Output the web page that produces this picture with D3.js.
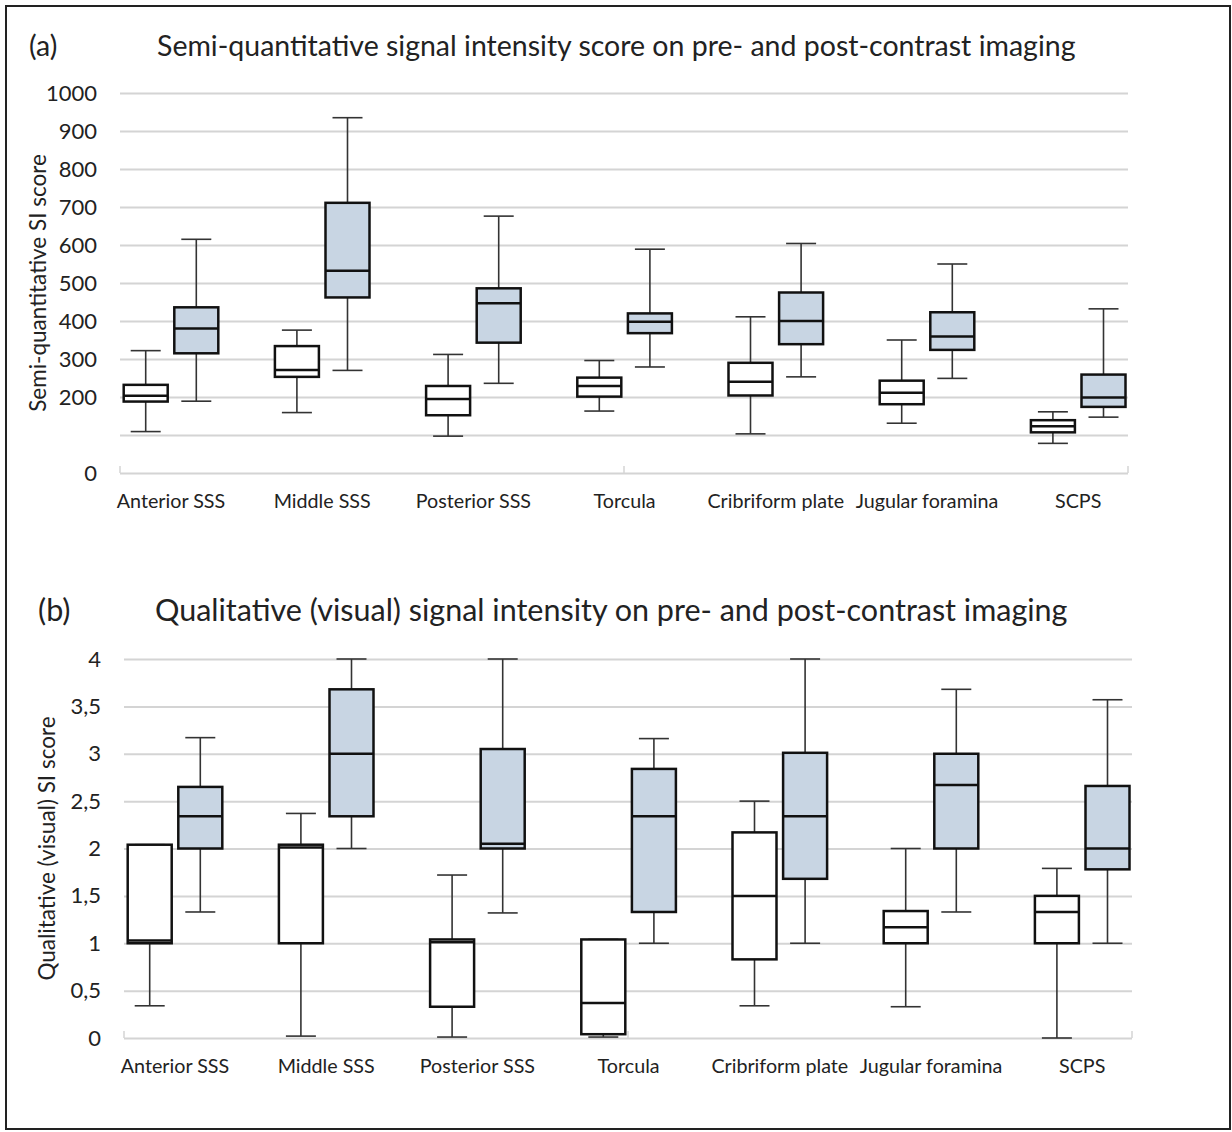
<!DOCTYPE html>
<html>
<head>
<meta charset="utf-8">
<script src="https://cdn.jsdelivr.net/npm/d3@7"></script>
<style>
  body { margin: 0; background: #fff; }
  text { font-family: Lato, "Open Sans", sans-serif; fill: #222; }
</style>
</head>
<body>
<div id="chart"></div>
<script>
const W = 1232, H = 1132;

const categories = ["Anterior SSS", "Middle SSS", "Posterior SSS", "Torcula", "Cribriform plate", "Jugular foramina", "SCPS"];

// each entry: [min, q1, median, q3, max]
const semiPre = [[109, 188, 203, 232, 322], [159, 253, 271, 334, 376], [97, 152, 195, 229, 312], [163, 201, 229, 251, 296],
                 [103, 204, 240, 290, 411], [131, 181, 211, 243, 350], [78, 107, 123, 139, 161]];
const semiPost = [[189, 315, 380, 436, 615], [270, 462, 532, 711, 935], [236, 343, 447, 486, 676], [279, 368, 398, 420, 589],
                  [253, 339, 400, 475, 604], [249, 324, 359, 423, 550], [147, 174, 199, 259, 432]];
const semiGrid = [0, 100, 200, 300, 400, 500, 600, 700, 800, 900, 1000];
const semiLabels = [0, 200, 300, 400, 500, 600, 700, 800, 900, 1000];

const qualPre = [[0.34, 1.0, 1.03, 2.04, 2.04], [0.02, 1.0, 2.01, 2.04, 2.37], [0.01, 0.33, 1.01, 1.04, 1.72], [0.01, 0.04, 0.37, 1.04, 1.04],
                 [0.34, 0.83, 1.5, 2.17, 2.5], [0.33, 1.0, 1.17, 1.34, 2.0], [0.0, 1.0, 1.33, 1.5, 1.79]];
const qualPost = [[1.33, 2.0, 2.34, 2.65, 3.17], [2.0, 2.34, 3.0, 3.68, 4.0], [1.32, 2.0, 2.05, 3.05, 4.0], [1.0, 1.33, 2.34, 2.84, 3.16],
                  [1.0, 1.68, 2.34, 3.01, 4.0], [1.33, 2.0, 2.67, 3.0, 3.68], [1.0, 1.78, 2.0, 2.66, 3.57]];
const qualGrid = [0, 0.5, 1, 1.5, 2, 2.5, 3, 3.5, 4];
const qualLabels = qualGrid;

const commaLocale = d3.formatLocale({ decimal: ",", thousands: ".", grouping: [3], currency: ["", ""] });
const fmt = commaLocale.format("~g");

const svg = d3.select("#chart").append("svg")
    .attr("width", W)
    .attr("height", H);

svg.append("rect")
    .attr("x", 6).attr("y", 6)
    .attr("width", W - 8).attr("height", H - 9)
    .attr("fill", "none")
    .attr("stroke", "#222")
    .attr("stroke-width", 2);

function drawPanel(p) {
    const g = svg.append("g");
    const right = p.left + 1008;

    const y = d3.scaleLinear().domain(p.domain).range([p.bottom, p.top]);
    const x = d3.scaleBand().domain(categories).range([p.left - 24.6, p.left + 1033.8]).padding(0);

    // gridlines + tick labels
    const yAxis = d3.axisLeft(y)
        .tickValues(p.grid)
        .tickSize(-(right - p.left))
        .tickPadding(23)
        .tickFormat(d => p.labels.includes(d) ? fmt(d) : "");
    const ya = g.append("g").attr("transform", `translate(${p.left},0)`).call(yAxis);
    ya.select(".domain").remove();
    ya.selectAll("line").attr("stroke", "#d4d4d4").attr("stroke-width", 2);
    ya.selectAll("text").attr("font-size", 22).attr("fill", "#333").attr("font-family", "Lato");

    // small ticks on the category axis
    const tx = d3.scaleLinear().domain([0, 2]).range([p.left, right]);
    g.selectAll("line.xt").data([0, 1, 2]).join("line")
        .attr("class", "xt")
        .attr("x1", d => tx(d)).attr("x2", d => tx(d))
        .attr("y1", p.bottom - 7).attr("y2", p.bottom)
        .attr("stroke", "#d4d4d4").attr("stroke-width", 1.5);

    // category labels
    const xAxis = d3.axisBottom(x).tickSize(0).tickPadding(21);
    const xa = g.append("g").attr("transform", `translate(0,${p.bottom})`).call(xAxis);
    xa.select(".domain").remove();
    xa.selectAll("text").attr("font-size", 19.7).attr("fill", "#222").attr("font-family", "Lato");

    // y title
    g.append("text")
        .attr("transform", `translate(${p.ylabelX},${(p.top + p.bottom) / 2}) rotate(-90)`)
        .attr("text-anchor", "middle")
        .attr("dy", "0.35em")
        .attr("font-size", 22.5)
        .attr("fill", "#333")
        .text(p.ylabel);

    // panel letter + title
    g.append("text").attr("x", p.letterX).attr("y", p.titleY)
        .attr("font-size", p.titleSize).text(p.letter);
    g.append("text").attr("x", p.titleX).attr("y", p.titleY)
        .attr("font-size", p.titleSize).text(p.title);

    const boxW = 44, off = 25.3, capW = 30;
    const series = [{ data: p.pre, dx: -off, fill: "#ffffff" }, { data: p.post, dx: off, fill: "#c8d5e3" }];

    series.forEach(s => {
        s.data.forEach((v, i) => {
            const cx = x(categories[i]) + x.bandwidth() / 2 + s.dx;
            const [mn, q1, med, q3, mx] = v;

            g.append("line")
                .attr("x1", cx).attr("x2", cx)
                .attr("y1", y(mn)).attr("y2", y(mx))
                .attr("stroke", "#333").attr("stroke-width", 1.6);
            [mn, mx].forEach(w => {
                g.append("line")
                    .attr("x1", cx - capW / 2).attr("x2", cx + capW / 2)
                    .attr("y1", y(w)).attr("y2", y(w))
                    .attr("stroke", "#333").attr("stroke-width", 1.6);
            });

            g.append("rect")
                .attr("x", cx - boxW / 2)
                .attr("y", y(q3))
                .attr("width", boxW)
                .attr("height", y(q1) - y(q3))
                .attr("fill", s.fill)
                .attr("stroke", "#111")
                .attr("stroke-width", 2.5);

            g.append("line")
                .attr("x1", cx - boxW / 2).attr("x2", cx + boxW / 2)
                .attr("y1", y(med)).attr("y2", y(med))
                .attr("stroke", "#111").attr("stroke-width", 2.5);
        });
    });
}

drawPanel({
    left: 120, top: 93, bottom: 473, domain: [0, 1000],
    grid: semiGrid, labels: semiLabels, pre: semiPre, post: semiPost,
    ylabel: "Semi-quantitative  SI score", ylabelX: 38,
    letter: "(a)", letterX: 29, titleX: 157, titleY: 56, titleSize: 28.5,
    title: "Semi-quantitative signal intensity score on pre- and post-contrast imaging"
});

drawPanel({
    left: 124, top: 659, bottom: 1038, domain: [0, 4],
    grid: qualGrid, labels: qualLabels, pre: qualPre, post: qualPost,
    ylabel: "Qualitative (visual) SI score", ylabelX: 47,
    letter: "(b)", letterX: 38, titleX: 155, titleY: 621, titleSize: 30.5,
    title: "Qualitative (visual) signal intensity on pre- and post-contrast imaging"
});
</script>
</body>
</html>
